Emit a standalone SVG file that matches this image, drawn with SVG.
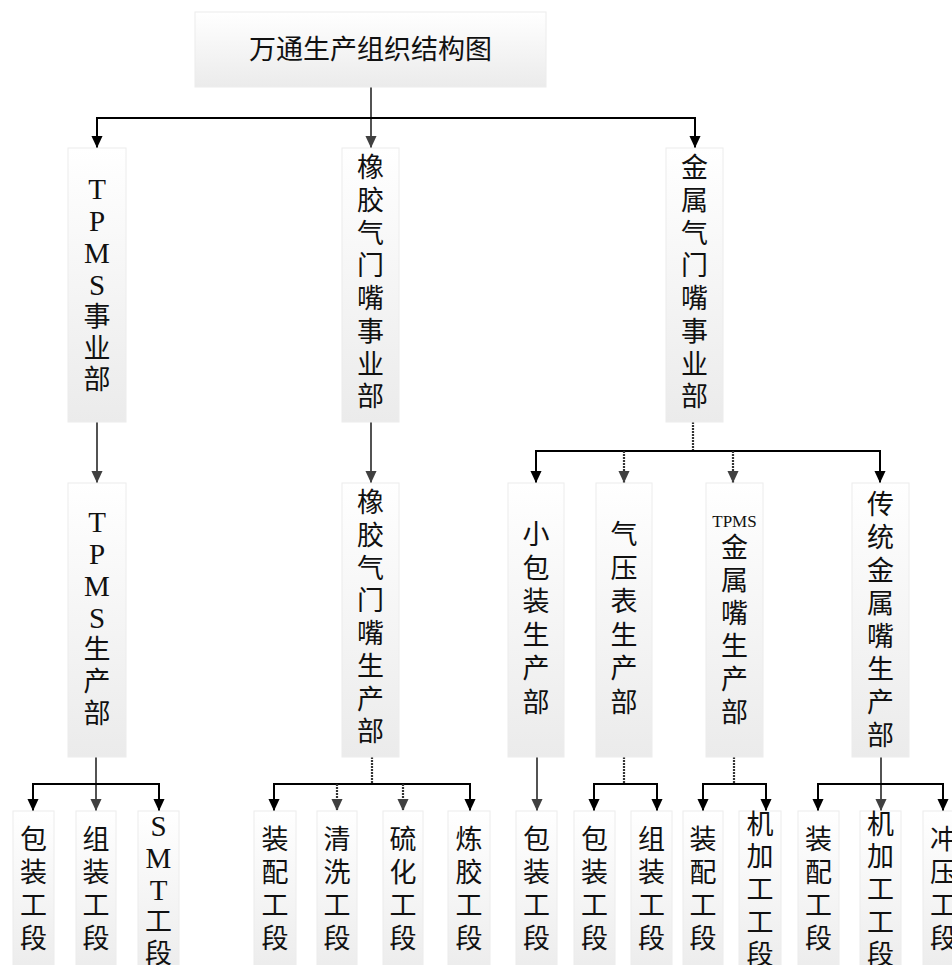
<svg xmlns="http://www.w3.org/2000/svg" width="952" height="965" viewBox="0 0 952 965">
<style>
.box{fill:url(#g);stroke:#ececec;stroke-width:1}
.t{font-family:"Liberation Serif","Noto Sans CJK SC",serif;font-size:27px;fill:#111;text-anchor:middle;dominant-baseline:central}
.l{font-size:29px}
.s{font-size:17px}
.k{fill:none;stroke:#000;stroke-width:2}
.gr{fill:none;stroke:#404040;stroke-width:1.8}
.d{fill:none;stroke:#333;stroke-width:2.2;stroke-dasharray:2 1}
</style>
<defs>
<linearGradient id="g" x1="0" y1="0" x2="0" y2="1">
<stop offset="0" stop-color="#ffffff"/>
<stop offset="1" stop-color="#ebebeb"/>
</linearGradient>
<marker id="ab" markerUnits="userSpaceOnUse" markerWidth="12" markerHeight="13" refX="13" refY="6" orient="auto" viewBox="0 0 13 12">
<path d="M0,0 L13,6 L0,12 z" fill="#000"/>
</marker>
<marker id="ag" markerUnits="userSpaceOnUse" markerWidth="12" markerHeight="13" refX="13" refY="6" orient="auto" viewBox="0 0 13 12">
<path d="M0,0 L13,6 L0,12 z" fill="#404040"/>
</marker>
</defs>
<rect width="952" height="965" fill="#fff"/>

<g id="connectors">
<path class="gr" d="M371,87 V148" marker-end="url(#ag)"/>
<path class="k" d="M97,148 V118 H695 V148" marker-end="url(#ab)"/>
<path class="k" d="M97,118 V148" marker-end="url(#ab)"/>
<path class="gr" d="M97,422 V483" marker-end="url(#ag)"/>
<path class="gr" d="M371,422 V483" marker-end="url(#ag)"/>
<path class="d" d="M693,422 V451"/>
<path class="k" d="M536,483 V451 H880 V483" marker-end="url(#ab)"/>
<path class="k" d="M536,451 V483" marker-end="url(#ab)"/>
<path class="d" d="M624,451 V483" marker-end="url(#ag)"/>
<path class="d" d="M733,451 V483" marker-end="url(#ag)"/>
<path class="gr" d="M96,757 V811" marker-end="url(#ag)"/>
<path class="k" d="M33,811 V784 H159 V811" marker-end="url(#ab)"/>
<path class="k" d="M33,784 V811" marker-end="url(#ab)"/>
<path class="d" d="M372,757 V784"/>
<path class="k" d="M274,811 V784 H470 V811" marker-end="url(#ab)"/>
<path class="k" d="M274,784 V811" marker-end="url(#ab)"/>
<path class="d" d="M337,784 V811" marker-end="url(#ag)"/>
<path class="d" d="M403,784 V811" marker-end="url(#ag)"/>
<path class="gr" d="M537,757 V811" marker-end="url(#ag)"/>
<path class="d" d="M624,757 V784"/>
<path class="k" d="M594,811 V784 H657 V811" marker-end="url(#ab)"/>
<path class="k" d="M594,784 V811" marker-end="url(#ab)"/>
<path class="d" d="M734,757 V784"/>
<path class="k" d="M703,811 V784 H766 V811" marker-end="url(#ab)"/>
<path class="k" d="M703,784 V811" marker-end="url(#ab)"/>
<path class="gr" d="M881,757 V811" marker-end="url(#ag)"/>
<path class="k" d="M818,811 V784 H943 V811" marker-end="url(#ab)"/>
<path class="k" d="M818,784 V811" marker-end="url(#ab)"/>
</g>

<g id="root">
<rect class="box" x="195" y="12" width="351" height="75"/>
<text class="t" x="370.5" y="50">万通生产组织结构图</text>
</g>

<g id="tpms-div">
<rect class="box" x="68" y="148" width="58" height="274"/>
<text class="t"><tspan class="l" x="97" y="189">T</tspan><tspan class="l" x="97" y="221">P</tspan><tspan class="l" x="97" y="253">M</tspan><tspan class="l" x="97" y="285">S</tspan><tspan x="97" y="317">事</tspan><tspan x="97" y="349">业</tspan><tspan x="97" y="380">部</tspan></text>
</g>
<g id="rubber-div">
<rect class="box" x="342" y="148" width="57" height="274"/>
<text class="t"><tspan x="370.5" y="168">橡</tspan><tspan x="370.5" y="201">胶</tspan><tspan x="370.5" y="233.5">气</tspan><tspan x="370.5" y="266">门</tspan><tspan x="370.5" y="299">嘴</tspan><tspan x="370.5" y="332">事</tspan><tspan x="370.5" y="364.5">业</tspan><tspan x="370.5" y="397">部</tspan></text>
</g>
<g id="metal-div">
<rect class="box" x="666" y="148" width="57" height="274"/>
<text class="t"><tspan x="694.5" y="168">金</tspan><tspan x="694.5" y="201">属</tspan><tspan x="694.5" y="233.5">气</tspan><tspan x="694.5" y="266">门</tspan><tspan x="694.5" y="299">嘴</tspan><tspan x="694.5" y="332">事</tspan><tspan x="694.5" y="364.5">业</tspan><tspan x="694.5" y="397">部</tspan></text>
</g>

<g id="tpms-prod">
<rect class="box" x="68" y="483" width="58" height="274"/>
<text class="t"><tspan class="l" x="97" y="522">T</tspan><tspan class="l" x="97" y="554">P</tspan><tspan class="l" x="97" y="586">M</tspan><tspan class="l" x="97" y="618">S</tspan><tspan x="97" y="650">生</tspan><tspan x="97" y="682">产</tspan><tspan x="97" y="714">部</tspan></text>
</g>
<g id="rubber-prod">
<rect class="box" x="342" y="483" width="57" height="274"/>
<text class="t"><tspan x="370.5" y="503">橡</tspan><tspan x="370.5" y="536">胶</tspan><tspan x="370.5" y="568.5">气</tspan><tspan x="370.5" y="601">门</tspan><tspan x="370.5" y="634">嘴</tspan><tspan x="370.5" y="667">生</tspan><tspan x="370.5" y="699.5">产</tspan><tspan x="370.5" y="732">部</tspan></text>
</g>
<g id="smallpack-prod">
<rect class="box" x="508" y="483" width="56" height="274"/>
<text class="t"><tspan x="536" y="535">小</tspan><tspan x="536" y="568.5">包</tspan><tspan x="536" y="602">装</tspan><tspan x="536" y="635.5">生</tspan><tspan x="536" y="669">产</tspan><tspan x="536" y="702.5">部</tspan></text>
</g>
<g id="gauge-prod">
<rect class="box" x="596" y="483" width="56" height="274"/>
<text class="t"><tspan x="624" y="535">气</tspan><tspan x="624" y="568.5">压</tspan><tspan x="624" y="602">表</tspan><tspan x="624" y="635.5">生</tspan><tspan x="624" y="669">产</tspan><tspan x="624" y="702.5">部</tspan></text>
</g>
<g id="tpmsmetal-prod">
<rect class="box" x="706" y="483" width="57" height="274"/>
<text class="t"><tspan class="s" x="734.5" y="521">TPMS</tspan><tspan x="734.5" y="548">金</tspan><tspan x="734.5" y="581">属</tspan><tspan x="734.5" y="614">嘴</tspan><tspan x="734.5" y="647">生</tspan><tspan x="734.5" y="680">产</tspan><tspan x="734.5" y="713">部</tspan></text>
</g>
<g id="trad-prod">
<rect class="box" x="852" y="483" width="57" height="274"/>
<text class="t"><tspan x="880.5" y="505">传</tspan><tspan x="880.5" y="538">统</tspan><tspan x="880.5" y="571">金</tspan><tspan x="880.5" y="604">属</tspan><tspan x="880.5" y="637">嘴</tspan><tspan x="880.5" y="670">生</tspan><tspan x="880.5" y="703">产</tspan><tspan x="880.5" y="736">部</tspan></text>
</g>

<g id="s1">
<rect class="box" x="13" y="811" width="41" height="170"/>
<text class="t"><tspan x="33.5" y="840">包</tspan><tspan x="33.5" y="873">装</tspan><tspan x="33.5" y="906">工</tspan><tspan x="33.5" y="939">段</tspan></text>
</g>
<g id="s2">
<rect class="box" x="76" y="811" width="40" height="170"/>
<text class="t"><tspan x="96" y="840">组</tspan><tspan x="96" y="873">装</tspan><tspan x="96" y="906">工</tspan><tspan x="96" y="939">段</tspan></text>
</g>
<g id="s3">
<rect class="box" x="138" y="811" width="41" height="170"/>
<text class="t"><tspan class="l" x="158.5" y="826">S</tspan><tspan class="l" x="158.5" y="858">M</tspan><tspan class="l" x="158.5" y="890">T</tspan><tspan x="158.5" y="922">工</tspan><tspan x="158.5" y="954">段</tspan></text>
</g>
<g id="s4">
<rect class="box" x="254" y="811" width="42" height="170"/>
<text class="t"><tspan x="275" y="840">装</tspan><tspan x="275" y="873">配</tspan><tspan x="275" y="906">工</tspan><tspan x="275" y="939">段</tspan></text>
</g>
<g id="s5">
<rect class="box" x="317" y="811" width="40" height="170"/>
<text class="t"><tspan x="337" y="840">清</tspan><tspan x="337" y="873">洗</tspan><tspan x="337" y="906">工</tspan><tspan x="337" y="939">段</tspan></text>
</g>
<g id="s6">
<rect class="box" x="383" y="811" width="40" height="170"/>
<text class="t"><tspan x="403" y="840">硫</tspan><tspan x="403" y="873">化</tspan><tspan x="403" y="906">工</tspan><tspan x="403" y="939">段</tspan></text>
</g>
<g id="s7">
<rect class="box" x="448" y="811" width="42" height="170"/>
<text class="t"><tspan x="469" y="840">炼</tspan><tspan x="469" y="873">胶</tspan><tspan x="469" y="906">工</tspan><tspan x="469" y="939">段</tspan></text>
</g>
<g id="s8">
<rect class="box" x="516" y="811" width="41" height="170"/>
<text class="t"><tspan x="536.5" y="840">包</tspan><tspan x="536.5" y="873">装</tspan><tspan x="536.5" y="906">工</tspan><tspan x="536.5" y="939">段</tspan></text>
</g>
<g id="s9">
<rect class="box" x="574" y="811" width="41" height="170"/>
<text class="t"><tspan x="594.5" y="840">包</tspan><tspan x="594.5" y="873">装</tspan><tspan x="594.5" y="906">工</tspan><tspan x="594.5" y="939">段</tspan></text>
</g>
<g id="s10">
<rect class="box" x="631" y="811" width="41" height="170"/>
<text class="t"><tspan x="651.5" y="840">组</tspan><tspan x="651.5" y="873">装</tspan><tspan x="651.5" y="906">工</tspan><tspan x="651.5" y="939">段</tspan></text>
</g>
<g id="s11">
<rect class="box" x="683" y="811" width="40" height="170"/>
<text class="t"><tspan x="703" y="840">装</tspan><tspan x="703" y="873">配</tspan><tspan x="703" y="906">工</tspan><tspan x="703" y="939">段</tspan></text>
</g>
<g id="s12">
<rect class="box" x="739" y="811" width="42" height="170"/>
<text class="t"><tspan x="760" y="825">机</tspan><tspan x="760" y="857">加</tspan><tspan x="760" y="890">工</tspan><tspan x="760" y="923">工</tspan><tspan x="760" y="955">段</tspan></text>
</g>
<g id="s13">
<rect class="box" x="798" y="811" width="41" height="170"/>
<text class="t"><tspan x="818.5" y="840">装</tspan><tspan x="818.5" y="873">配</tspan><tspan x="818.5" y="906">工</tspan><tspan x="818.5" y="939">段</tspan></text>
</g>
<g id="s14">
<rect class="box" x="860" y="811" width="41" height="170"/>
<text class="t"><tspan x="880.5" y="825">机</tspan><tspan x="880.5" y="857">加</tspan><tspan x="880.5" y="890">工</tspan><tspan x="880.5" y="923">工</tspan><tspan x="880.5" y="955">段</tspan></text>
</g>
<g id="s15">
<rect class="box" x="923" y="811" width="41" height="170"/>
<text class="t"><tspan x="943.5" y="840">冲</tspan><tspan x="943.5" y="873">压</tspan><tspan x="943.5" y="906">工</tspan><tspan x="943.5" y="939">段</tspan></text>
</g>
</svg>
